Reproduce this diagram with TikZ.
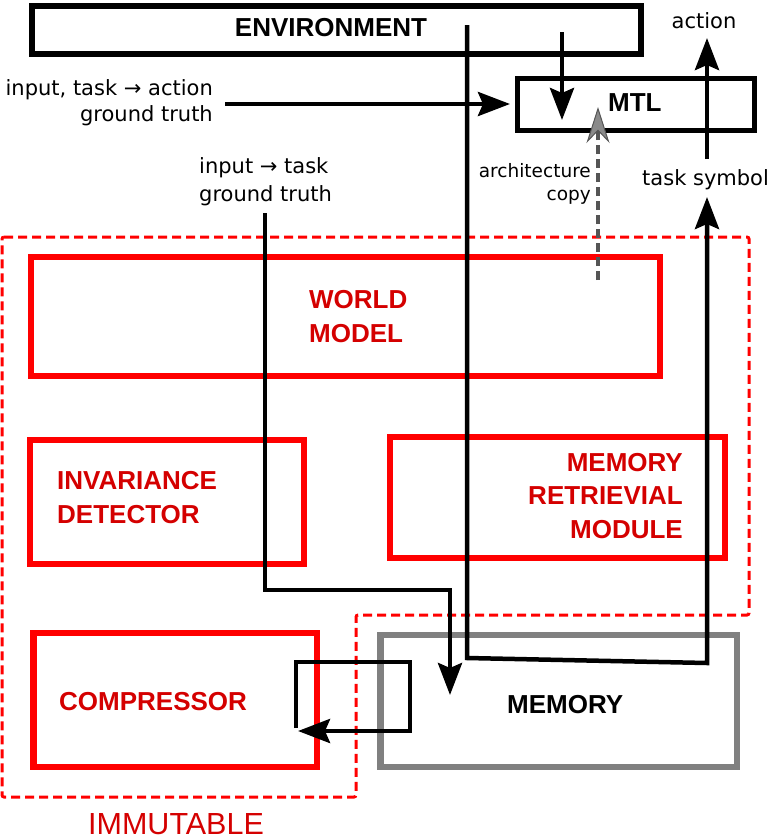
\documentclass[tikz,border=0pt]{standalone}
\usepackage{fontspec}
\setmainfont{DejaVu Sans}
\newfontfamily\labfont{Liberation Sans}
\usetikzlibrary{arrows.meta}
\definecolor{boxred}{HTML}{FF0000}
\definecolor{txtred}{HTML}{D40000}
\definecolor{memgray}{HTML}{808080}
\definecolor{dgray}{HTML}{555555}
\definecolor{agray}{HTML}{8A8A8A}
\begin{document}
\begin{tikzpicture}[x=1pt,y=-1pt,
  blackbox/.style={draw=black, rectangle, inner sep=0pt, outer sep=0pt},
  redbox/.style={draw=boxred, rectangle, line width=6.5pt, inner sep=0pt, outer sep=0pt},
  graybox/.style={draw=memgray, rectangle, line width=6.5pt, inner sep=0pt, outer sep=0pt},
  boldlab/.style={inner sep=0pt, font=\labfont\bfseries\fontsize{26}{34}\selectfont},
  redlab/.style={boldlab, text=txtred},
  smalllab/.style={inner sep=0pt, font=\fontsize{21}{26}\selectfont},
  conn/.style={line width=4.5pt, -{Stealth[length=32pt,width=24pt,inset=5pt]}},
  copyconn/.style={draw=dgray, line width=4pt, dash pattern=on 9pt off 5pt,
     -{Stealth[length=36pt,width=23pt,inset=12pt,line width=1pt,fill=agray,color=dgray]}}
]
\useasboundingbox (0,0) rectangle (768,839);

% immutable region
\draw[boxred, line width=3pt, dash pattern=on 9pt off 5pt, rounded corners=2pt]
  (2,237) -- (749,237) -- (749,615) -- (356,615) -- (356,797) -- (2,797) -- cycle;
\node[inner sep=0pt, anchor=base west, text=txtred, font=\labfont\fontsize{30.5}{31}\selectfont] (imm) at (88,834) {IMMUTABLE};

% boxes
\node[blackbox, line width=6.5pt, minimum width=609pt, minimum height=48pt] (env) at (336.5,30) {};
\node[boldlab, anchor=base] (envt) at (331,36) {ENVIRONMENT};
\node[blackbox, line width=5pt, minimum width=237pt, minimum height=52pt] (mtl) at (635.5,104) {};
\node[boldlab, anchor=base west] (mtlt) at (608,111) {MTL};

\node[redbox, minimum width=629pt, minimum height=119pt] (wm) at (345.5,316.5) {};
\node[redlab, anchor=base west, align=left] (wmt) at (309,342) {WORLD\\MODEL};
\node[redbox, minimum width=274pt, minimum height=124pt] (inv) at (167,502) {};
\node[redlab, anchor=base west, align=left] (invt) at (57,523) {INVARIANCE\\DETECTOR};
\node[redbox, minimum width=335pt, minimum height=121pt] (mrm) at (557.5,497.5) {};
\node[redlab, anchor=base east, align=right, font=\labfont\bfseries\fontsize{26}{33.5}\selectfont] (mrmt) at (683,538) {MEMORY\\RETRIEVIAL\\MODULE};
\node[redbox, minimum width=283.5pt, minimum height=134pt] (comp) at (175.25,700) {};
\node[redlab, anchor=base west] (compt) at (59,710) {COMPRESSOR};
\node[graybox, minimum width=356.5pt, minimum height=132pt] (mem) at (558.75,701) {};
\node[boldlab, anchor=base west] (memt) at (507,713) {MEMORY};

% text labels
\node[smalllab, anchor=base] (act) at (704,28) {action};
\node[smalllab, anchor=base west] (ts) at (642,185) {task symbol};
\node[smalllab, anchor=base east, align=right] (itl) at (213,121) {input, task → action\\ground truth};
\node[smalllab, anchor=base west, align=left, font=\fontsize{21}{28.5}\selectfont] (itt) at (199,201.5) {input → task\\ground truth};
\node[inner sep=0pt, anchor=base east, align=right, font=\fontsize{18.5}{23}\selectfont] (arc) at (591,200) {architecture\\copy};

% connector coordinates
\coordinate (itlA) at (225,104);
\coordinate (mtlW) at (510,104);
\coordinate (envB) at (562,32);
\coordinate (mtlB) at (562,120);
\coordinate (mtlS) at (707,159);
\coordinate (actS) at (707,38);
\coordinate (arcB) at (598,280);
\coordinate (arcT) at (598,107);
\coordinate (envA) at (467,25);
\coordinate (envC) at (467,658);
\coordinate (envD) at (707,663);
\coordinate (tsS) at (707,197);
\coordinate (ittA) at (265,213);
\coordinate (ittB) at (265,590);
\coordinate (ittC) at (450,590);
\coordinate (memA) at (450,695);
\coordinate (lpA) at (296,728);
\coordinate (lpB) at (296,662);
\coordinate (lpC) at (410,662);
\coordinate (lpD) at (410,731);
\coordinate (compE) at (298,731);

% connectors
\draw[conn] (itlA) -- (mtlW);
\draw[conn] (envB) -- (mtlB);
\draw[conn] (mtlS) -- (actS);
\draw[copyconn] (arcB) -- (arcT);
\draw[conn] (envA) -- (envC) -- (envD) -- (tsS);
\draw[conn] (ittA) -- (ittB) -- (ittC) -- (memA);
\draw[conn] (lpA) -- (lpB) -- (lpC) -- (lpD) -- (compE);
\end{tikzpicture}
\end{document}
